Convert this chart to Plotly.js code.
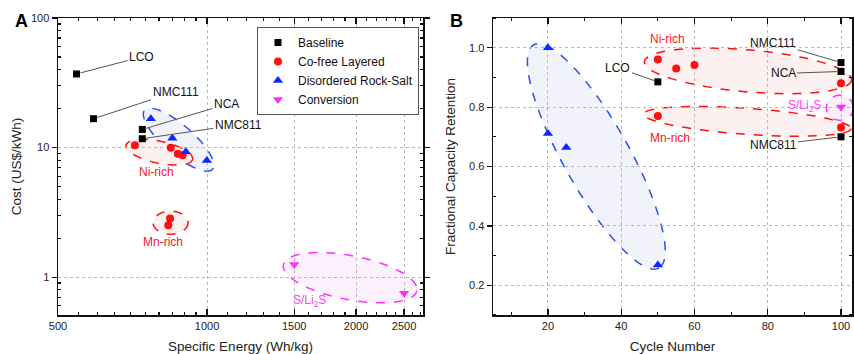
<!DOCTYPE html>
<html><head><meta charset="utf-8">
<script src="https://cdn.plot.ly/plotly-3.0.1.min.js"></script>
<style>html,body{margin:0;padding:0;background:#fff}#chart{width:854px;height:354px}</style>
</head><body><div id="chart"></div>
<script>
// ---------- Panel A: cost vs specific energy ----------
const baselineA_x = [545, 590, 740, 740];
const baselineA_y = [37, 16.7, 13.8, 11.7];
const baselineLabels = ['LCO', 'NMC111', 'NCA', 'NMC811'];
const cofreeA_x = [715, 845, 873, 893, 842, 835];
const cofreeA_y = [10.4, 9.95, 8.94, 8.73, 2.83, 2.51];
const drsA_x = [770, 851, 906, 999];
const drsA_y = [16.7, 11.8, 9.27, 7.94];
const convA_x = [1500, 2500];
const convA_y = [1.25, 0.75];
// ---------- Panel B: capacity retention vs cycle number ----------
const baselineB_x = [50, 100, 100, 100];
const baselineB_y = [0.885, 0.95, 0.92, 0.70];
const cofreeB_x = [50, 55, 60, 100, 50, 100];
const cofreeB_y = [0.96, 0.93, 0.942, 0.88, 0.77, 0.731];
const drsB_x = [20, 20, 25, 50];
const drsB_y = [1.0, 0.711, 0.664, 0.268];
const convB_x = [100];
const convB_y = [0.80];
// ---------- ticks ----------
const xTicksA = [500, 1000, 1500, 2000, 2500];
const yTicksA = [1, 10, 100];
const xTicksB = [20, 40, 60, 80, 100];
const yTicksB = [0.2, 0.4, 0.6, 0.8, 1.0];
const seriesNames = ['Baseline', 'Co-free Layered', 'Disordered Rock-Salt', 'Conversion'];

// ---------- geometry ----------
const W = 854, H = 354;
const M = {l: 58, r: 2, t: 18, b: 39};
const PW = W - M.l - M.r, PH = H - M.t - M.b;
const domA = [0, 0.4597], domB = [0.5479, 1];
const xrA = [Math.log10(500), Math.log10(2730)], yrA = [Math.log10(0.51), 2];
const xrB = [5, 103], yrB = [0.1, 1.1];

const FONT = 'Liberation Sans, Arial, sans-serif';
const C = {black: '#000000', red: '#ff1010', blue: '#0a28ff', mag: '#ff30ff'};

function pxA(x, y) {
  const fx = (Math.log10(x) - xrA[0]) / (xrA[1] - xrA[0]);
  const fy = (Math.log10(y) - yrA[0]) / (yrA[1] - yrA[0]);
  return [M.l + PW * (domA[0] + (domA[1] - domA[0]) * fx), M.t + PH * (1 - fy)];
}
function pxB(x, y) {
  const fx = (x - xrB[0]) / (xrB[1] - xrB[0]);
  const fy = (y - yrB[0]) / (yrB[1] - yrB[0]);
  return [M.l + PW * (domB[0] + (domB[1] - domB[0]) * fx), M.t + PH * (1 - fy)];
}
function ellipse(toPx, cx, cy, a, b, angDeg, line, fill) {
  const c = toPx(cx, cy), th = angDeg * Math.PI / 180, N = 90;
  let d = '';
  for (let i = 0; i <= N; i++) {
    const t = 2 * Math.PI * i / N;
    const dx = a * Math.cos(t), dy = b * Math.sin(t);
    const px = c[0] + dx * Math.cos(th) - dy * Math.sin(th);
    const py = c[1] + dx * Math.sin(th) + dy * Math.cos(th);
    d += (i ? 'L' : 'M') + ((px - M.l) / PW).toFixed(5) + ',' + (1 - (py - M.t) / PH).toFixed(5);
  }
  return {type: 'path', path: d + 'Z', xref: 'paper', yref: 'paper', layer: 'below',
          line: {color: line, width: 1.5, dash: 'dash'}, fillcolor: fill};
}
const fillBlue = '#f2f2fb', fillRed = '#fdf0f0', fillMag = '#fdf0fd';
const shapes = [
  ellipse(pxA, 876, 11.5, 45, 14.5, 41, '#2a52e8', fillBlue),
  ellipse(pxA, 801, 9.2, 34, 11, 12, C.red, fillRed),
  ellipse(pxA, 844, 2.63, 17.5, 11.5, 0, C.red, fillRed),
  ellipse(pxA, 1945, 0.99, 68, 22, 11, C.mag, fillMag),
  ellipse(pxB, 33.2, 0.634, 128, 33, 60.7, '#2a52e8', fillBlue),
  ellipse(pxB, 74.6, 0.922, 104, 21, 5, C.red, fillRed),
  ellipse(pxB, 74.4, 0.752, 104, 13, 4, C.red, fillRed),
  ellipse(pxB, 99.7, 0.798, 13.5, 12.5, 0, C.mag, fillMag)
];

function sc(x, y, xa, ya, name, sym, color, size, showleg) {
  return {type: 'scatter', mode: 'markers', x: x, y: y, xaxis: xa, yaxis: ya, name: name,
          legendgroup: name, showlegend: showleg, cliponaxis: false,
          marker: {symbol: sym, color: color, size: size, line: {width: 0}}};
}
const traces = [
  sc(baselineA_x, baselineA_y, 'x', 'y', seriesNames[0], 'square', C.black, 7, true),
  sc(cofreeA_x, cofreeA_y, 'x', 'y', seriesNames[1], 'circle', C.red, 8, true),
  sc(drsA_x, drsA_y, 'x', 'y', seriesNames[2], 'triangle-up', C.blue, 9, true),
  sc(convA_x, convA_y, 'x', 'y', seriesNames[3], 'triangle-down', C.mag, 9, true),
  sc(baselineB_x, baselineB_y, 'x2', 'y2', seriesNames[0], 'square', C.black, 7, false),
  sc(cofreeB_x, cofreeB_y, 'x2', 'y2', seriesNames[1], 'circle', C.red, 8, false),
  sc(drsB_x, drsB_y, 'x2', 'y2', seriesNames[2], 'triangle-up', C.blue, 9, false),
  sc(convB_x, convB_y, 'x2', 'y2', seriesNames[3], 'triangle-down', C.mag, 9, false)
];

// leader-line labels
const leadA = [[65, -17], [82, -27], [84, -25], [96, -14]];
const leadB = [[-40, -14], [-68, -20], [-58, 2], [-68, 8]];
const annotations = [];
const lblFont = {family: FONT, size: 12, color: '#111'};
baselineLabels.forEach((t, i) => {
  annotations.push({xref: 'x', yref: 'y', x: Math.log10(baselineA_x[i]), y: Math.log10(baselineA_y[i]),
    text: t, showarrow: true, arrowhead: 0, arrowwidth: 1, arrowcolor: '#555', standoff: 4,
    ax: leadA[i][0], ay: leadA[i][1], font: lblFont});
  annotations.push({xref: 'x2', yref: 'y2', x: baselineB_x[i], y: baselineB_y[i],
    text: t, showarrow: true, arrowhead: 0, arrowwidth: 1, arrowcolor: '#555', standoff: 4,
    ax: leadB[i][0], ay: leadB[i][1], font: lblFont});
});
const redF = {family: FONT, size: 12, color: '#f02020'}, magF = {family: FONT, size: 12, color: '#ff40ff'};
annotations.push(
  {xref: 'x', yref: 'y', x: Math.log10(789), y: Math.log10(6.43), text: 'Ni-rich', showarrow: false, font: redF},
  {xref: 'x', yref: 'y', x: Math.log10(815), y: Math.log10(1.86), text: 'Mn-rich', showarrow: false, font: redF},
  {xref: 'x', yref: 'y', x: Math.log10(1607), y: Math.log10(0.653), text: 'S/Li<sub>2</sub>S', showarrow: false, font: magF},
  {xref: 'x2', yref: 'y2', x: 52.5, y: 1.03, text: 'Ni-rich', showarrow: false, font: redF},
  {xref: 'x2', yref: 'y2', x: 53.3, y: 0.696, text: 'Mn-rich', showarrow: false, font: redF},
  {xref: 'x2', yref: 'y2', x: 90.1, y: 0.804, text: 'S/Li<sub>2</sub>S', showarrow: false, font: magF},
  {xref: 'paper', yref: 'paper', x: (21 - M.l) / PW, y: 1 - (21 - M.t) / PH, xanchor: 'center', yanchor: 'middle',
   text: '<b>A</b>', showarrow: false, font: {family: FONT, size: 18, color: '#000'}},
  {xref: 'paper', yref: 'paper', x: (456 - M.l) / PW, y: 1 - (21 - M.t) / PH, xanchor: 'center', yanchor: 'middle',
   text: '<b>B</b>', showarrow: false, font: {family: FONT, size: 18, color: '#000'}}
);

const minorXA = [];
for (let v = 550; v < 1000; v += 50) minorXA.push(v);
for (let v = 1100; v <= 2700; v += 100) if (v % 500) minorXA.push(v);
const minorYA = [];
[0.1, 1, 10].forEach(p => { for (let k = 2; k <= 9; k++) minorYA.push(k * p); });

const tickFont = {family: FONT, size: 11, color: '#222'};
const titleFont = {family: FONT, size: 13.5, color: '#222'};
const axBase = {showline: true, linecolor: '#111', linewidth: 1.5, mirror: 'ticks', tickcolor: '#111',
  tickwidth: 1.2, tickfont: tickFont, showgrid: true, gridcolor: '#b8b8b8', griddash: 'dot', gridwidth: 1,
  zeroline: false, fixedrange: true};

const layout = {
  width: W, height: H, margin: M, paper_bgcolor: '#fff', plot_bgcolor: 'rgba(0,0,0,0)',
  font: {family: FONT}, showlegend: true,
  legend: {x: (257 - M.l) / PW, y: 1 - (27 - M.t) / PH, xanchor: 'left', yanchor: 'top',
    bgcolor: '#fff', bordercolor: '#555', borderwidth: 1, font: {family: FONT, size: 12, color: '#111'},
    itemwidth: 30, tracegroupgap: 0},
  xaxis: Object.assign({}, axBase, {domain: domA, type: 'log', range: xrA, tickmode: 'array', tickvals: xTicksA,
    ticktext: xTicksA.map(String), ticks: 'inside', ticklen: 6, anchor: 'y',
    minor: {tickmode: 'array', tickvals: minorXA, ticks: 'inside', ticklen: 3, tickcolor: '#111', showgrid: false},
    title: {text: 'Specific Energy (Wh/kg)', font: titleFont, standoff: 12}}),
  yaxis: Object.assign({}, axBase, {domain: [0, 1], type: 'log', range: yrA, tickmode: 'array', tickvals: yTicksA,
    ticktext: yTicksA.map(String), ticks: 'outside', ticklen: 5, anchor: 'x',
    minor: {tickmode: 'array', tickvals: minorYA, ticks: 'inside', ticklen: 3, tickcolor: '#111', showgrid: false},
    title: {text: 'Cost (US$/kWh)', font: titleFont, standoff: 6}}),
  xaxis2: Object.assign({}, axBase, {domain: domB, range: xrB, tickmode: 'array', tickvals: xTicksB,
    ticks: 'inside', ticklen: 6, anchor: 'y2',
    minor: {tickmode: 'linear', tick0: 10, dtick: 20, ticks: 'inside', ticklen: 3, tickcolor: '#111', showgrid: false},
    title: {text: 'Cycle Number', font: titleFont, standoff: 12}}),
  yaxis2: Object.assign({}, axBase, {domain: [0, 1], range: yrB, tickmode: 'array', tickvals: yTicksB,
    tickformat: '.1f', ticks: 'outside', ticklen: 5, anchor: 'x2',
    minor: {tickmode: 'linear', tick0: 0.1, dtick: 0.2, ticks: 'inside', ticklen: 3, tickcolor: '#111', showgrid: false},
    title: {text: 'Fractional Capacity Retention', font: titleFont, standoff: 10}}),
  shapes: shapes,
  annotations: annotations
};

Plotly.newPlot('chart', traces, layout, {staticPlot: true, displayModeBar: false});
</script>
</body></html>
